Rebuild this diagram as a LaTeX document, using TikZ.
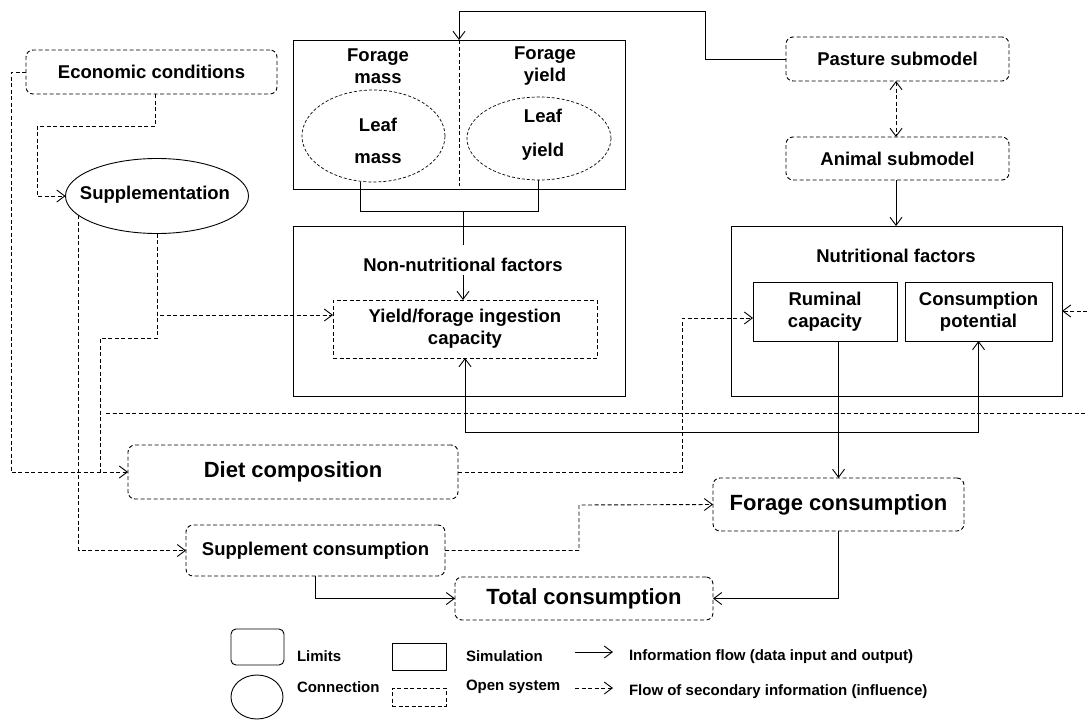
\documentclass[tikz,border=0pt]{standalone}
\usepackage{fontspec}
\setmainfont{Liberation Sans}
\usetikzlibrary{arrows.meta,shapes.geometric}
\begin{document}
\begin{tikzpicture}[x=1pt,y=-1pt,
  every node/.style={inner sep=0pt, outer sep=0pt, font=\bfseries},
  lw/.style={line width=0.9pt},
  dsh/.style={dash pattern=on 4pt off 2.5pt},
  limbox/.style={draw, lw, dsh, rounded corners=7pt, align=center},
  simbox/.style={draw, lw, rectangle},
  openbox/.style={draw, lw, dsh, rectangle, align=center},
  conn/.style={draw, lw, ellipse},
  tipv/.style={-{Straight Barb[length=8pt,width=12pt]}},
  flow/.style={lw, tipv},
  dflow/.style={lw, dsh, tipv},
  fA/.style={font=\fontsize{18.5}{22}\selectfont\bfseries},
  fB/.style={font=\fontsize{22}{26}\selectfont\bfseries},
  fL/.style={font=\fontsize{15}{18}\selectfont\bfseries},
]
\useasboundingbox (0,0) rectangle (1087,720);

% ---------- top left
\node[limbox, fA, minimum width=251pt, minimum height=44pt] (econ) at (151.5,72) {Economic conditions};
\node[conn, minimum width=183pt, minimum height=75pt] (supp) at (157,196) {};
\node[fA] (supptxt) at (155,195) {Supplementation};

% ---------- forage box
\node[simbox, minimum width=332pt, minimum height=149pt] (forage) at (459,114.5) {};
\node[fA, align=center] (fmass) at (378,66) {Forage\\mass};
\node[fA, align=center] (fyield) at (545,66) {Forage\\yield};
\node[draw, line width=0.7pt, dash pattern=on 3pt off 2pt, ellipse, minimum width=143pt, minimum height=92pt] (leafm) at (373.5,136) {};
\node[fA, align=center] (leafmtxt) at (378,141) {Leaf\\[10pt]mass};
\node[draw, line width=0.7pt, dash pattern=on 3pt off 2pt, ellipse, minimum width=144pt, minimum height=83pt] (leafy) at (539,138.5) {};
\node[fA, align=center] (leafytxt) at (543,135) {Leaf\\[12pt]yield};
\draw[lw, dsh] (forage.north) -- ([yshift=3pt]forage.south);

% ---------- non-nutritional
\node[simbox, minimum width=332pt, minimum height=170pt] (nonnut) at (459,311) {};
\node[fA] (nntxt) at (463,265) {Non-nutritional factors};
\node[openbox, fA, minimum width=264pt, minimum height=58pt] (yield) at (465,329) {Yield/forage ingestion\\capacity};

\coordinate (bl) at (360,211);
\coordinate (br) at (538,211);
\coordinate (bm) at (463,211);
\coordinate (stem) at (463,245);
\draw[lw] ([xshift=-13.5pt]leafm.south) -- (bl) -- (br) -- ([xshift=-1pt]leafy.south);
\draw[lw] (bm) -- (stem);
\draw[flow] ([yshift=-3pt]nntxt.south) -- (yield.north -| nntxt.south);

% ---------- right side
\node[limbox, fA, minimum width=223pt, minimum height=44pt] (pasture) at (897.5,59) {Pasture submodel};
\node[limbox, fA, minimum width=223pt, minimum height=43pt] (animal) at (897.5,158.5) {Animal submodel};
\node[simbox, minimum width=331pt, minimum height=170pt] (nutr) at (896.5,311) {};
\node[fA] (nutrtxt) at (896,256) {Nutritional factors};
\node[simbox, fA, align=center, minimum width=144pt, minimum height=59pt] (rum) at (825,311.5) {Ruminal\\capacity};
\node[simbox, fA, align=center, minimum width=147pt, minimum height=59pt] (cpot) at (978.5,311.5) {Consumption\\potential};

% ---------- bottom
\node[limbox, fB, minimum width=330pt, minimum height=54pt] (diet) at (293,472) {Diet composition};
\node[limbox, fA, minimum width=259pt, minimum height=51pt] (suppc) at (315.5,550.5) {Supplement consumption};
\node[limbox, fB, minimum width=251pt, minimum height=53pt] (forc) at (838.5,504.5) {Forage consumption};
\node[limbox, fB, minimum width=258pt, minimum height=43pt] (total) at (584,598.5) {Total consumption};

% ---------- connectors
\draw[dflow] (econ.west) -- ++(-15,0) |- (diet.west);
\draw[dflow] ([xshift=3.5pt]econ.south) |- (37,126) |- (supp.west);
\draw[dflow] (supp.194) |- (suppc.west);
\draw[dflow] (supp.south) |- ([yshift=14pt]yield.west);
\coordinate (j1) at (100,472);
\draw[lw, dsh] (supp.south) -- (157,338) -| (j1);
\coordinate (hl1) at (106,413);
\coordinate (hl2) at (1087,413);
\draw[lw, dsh] (hl1) -- (hl2);

\draw[flow] (pasture.west) -| (705,11) -| (forage.north);
\draw[lw, dsh, {Straight Barb[length=8pt,width=12pt]}-{Straight Barb[length=8pt,width=12pt]}] ([xshift=-1.5pt]pasture.south) -- ([xshift=-1.5pt]animal.north);
\draw[flow] ([xshift=-1.5pt]animal.south) -- ([xshift=-0.5pt]nutr.north);

\draw[dflow] (diet.east) -| (682,318) -- ([yshift=-6.5pt]rum.west);
\coordinate (rin) at (1087,311);
\draw[dflow] (rin) -- (nutr.east);
\draw[flow] (forc.north |- rum.south) -- (forc.north);
\draw[lw, {Straight Barb[length=8pt,width=12pt]}-{Straight Barb[length=8pt,width=12pt]}] (yield.south) -- ++(0,74) -| (cpot.south);

\draw[dflow] (suppc.east) -| (579,505) -- (forc.west);
\draw[flow] (suppc.south) |- (total.west);
\draw[flow] (forc.south) |- (total.east);

% ---------- legend
\node[draw, lw, rounded corners=5pt, minimum width=53pt, minimum height=36pt] (lglim) at (257.5,647) {};
\node[draw, lw, ellipse, minimum width=52pt, minimum height=44pt] (lgcon) at (257,697) {};
\node[fL, anchor=west] (lglimt) at (297,656) {Limits};
\node[fL, anchor=west] (lgcont) at (297,687) {Connection};
\node[simbox, minimum width=54pt, minimum height=27pt] (lgsim) at (419,656.5) {};
\node[draw, lw, dsh, minimum width=54pt, minimum height=18pt] (lgopen) at (419,697) {};
\node[fL, anchor=west] (lgsimt) at (466,656) {Simulation};
\node[fL, anchor=west] (lgopent) at (466,687) {Open system};
\coordinate (la1) at (575,652);
\coordinate (la2) at (613,652);
\coordinate (lb1) at (575,688);
\coordinate (lb2) at (613,688);
\draw[flow] (la1) -- (la2);
\draw[dflow] (lb1) -- (lb2);
\node[fL, anchor=west] (lgflow) at (629,657) {Information flow (data input and output)};
\node[fL, anchor=west] (lgsec) at (629,692) {Flow of secondary information (influence)};
\end{tikzpicture}
\end{document}
